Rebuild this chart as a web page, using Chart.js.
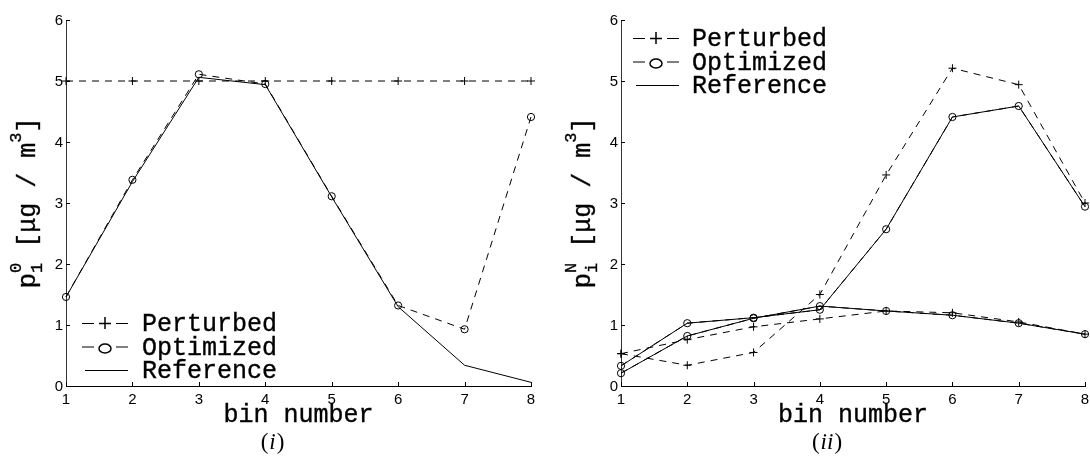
<!DOCTYPE html>
<html>
<head>
<meta charset="utf-8">
<script src="https://cdn.jsdelivr.net/npm/chart.js@4"></script>
<style>
body { margin: 0; background: #fff; }
.panel { position: absolute; top: 0; width: 545px; height: 456px; }
</style>
</head>
<body>
<div class="panel" style="left:0"><canvas id="chart1" width="545" height="456"></canvas></div>
<div class="panel" style="left:545px"><canvas id="chart2" width="545" height="456"></canvas></div>
<script>
const bins = ["1", "2", "3", "4", "5", "6", "7", "8"];

// panel (i)
const perturbed1 = [5, 5, 5, 5, 5, 5, 5, 5];
const optimized1 = [1.46, 3.38, 5.11, 4.95, 3.11, 1.32, 0.93, 4.41];
const reference1 = [1.46, 3.35, 5.06, 4.94, 3.1, 1.3, 0.34, 0.06];

// panel (ii)
const perturbedPeak = [0.53, 0.34, 0.55, 1.5, 3.46, 5.21, 4.94, 3.0];
const perturbedFlat = [0.53, 0.76, 0.97, 1.1, 1.23, 1.2, 1.05, 0.85];
const optimizedPeak = [0.33, 1.03, 1.12, 1.25, 2.57, 4.41, 4.59, 2.94];
const optimizedFlat = [0.21, 0.82, 1.11, 1.31, 1.23, 1.16, 1.03, 0.85];
const referencePeak = [0.33, 1.03, 1.12, 1.25, 2.57, 4.41, 4.59, 2.94];
const referenceFlat = [0.21, 0.82, 1.11, 1.31, 1.23, 1.16, 1.03, 0.85];

const MONO = "'Liberation Mono', 'DejaVu Sans Mono', monospace";
const SANS = "'Liberation Sans', Arial, sans-serif";
const SERIF = "'Liberation Serif', 'DejaVu Serif', serif";
const DASH = [7, 6];

function perturbedSet(data) {
    return {
        data: data,
        borderColor: "#000",
        borderWidth: 1,
        borderDash: DASH,
        pointStyle: "cross",
        pointRadius: 4,
        pointBorderWidth: 1,
        pointBorderColor: "#000",
        backgroundColor: "rgba(0,0,0,0)",
        tension: 0,
        clip: false,
    };
}

function optimizedSet(data) {
    return {
        data: data,
        borderColor: "#000",
        borderWidth: 1,
        borderDash: DASH,
        pointStyle: "circle",
        pointRadius: 3.6,
        pointBorderWidth: 1,
        pointBorderColor: "#000",
        pointBackgroundColor: "rgba(0,0,0,0)",
        backgroundColor: "rgba(0,0,0,0)",
        tension: 0,
        clip: false,
    };
}

function referenceSet(data) {
    return {
        data: data,
        borderColor: "#000",
        borderWidth: 1,
        pointRadius: 0,
        tension: 0,
        clip: false,
    };
}

// courier text, slightly thickened
function monoText(ctx, text, x, y, size) {
    ctx.font = size + "px " + MONO;
    ctx.fillText(text, x, y);
    ctx.lineWidth = 0.35;
    ctx.strokeText(text, x, y);
    ctx.lineWidth = 1;
}

// draws tick marks, tick labels, axis titles, legend and caption
function decorations(cfg) {
    return {
        id: "decorations",
        afterDraw(chart) {
            const ctx = chart.ctx;
            const xs = chart.scales.x;
            const ys = chart.scales.y;
            const area = chart.chartArea;
            ctx.save();
            ctx.strokeStyle = "#000";
            ctx.fillStyle = "#000";
            ctx.lineWidth = 1;
            ctx.setLineDash([]);

            // inward ticks and labels
            ctx.beginPath();
            xs.ticks.forEach(function (t, i) {
                const px = Math.round(xs.getPixelForTick(i)) + 0.5;
                ctx.moveTo(px, area.bottom);
                ctx.lineTo(px, area.bottom - 4);
            });
            ys.ticks.forEach(function (t, i) {
                const py = Math.round(ys.getPixelForTick(i)) + 0.5;
                ctx.moveTo(area.left, py);
                ctx.lineTo(area.left + 4, py);
            });
            ctx.stroke();

            ctx.font = "15px " + SANS;
            ctx.textAlign = "center";
            ctx.textBaseline = "top";
            xs.ticks.forEach(function (t, i) {
                ctx.fillText(xs.getLabelForValue(t.value), xs.getPixelForTick(i), area.bottom + 6);
            });
            ctx.textAlign = "right";
            ctx.textBaseline = "middle";
            ys.ticks.forEach(function (t, i) {
                ctx.fillText(String(t.value), area.left - 3, ys.getPixelForTick(i) + 1);
            });

            // x title
            ctx.textAlign = "center";
            ctx.textBaseline = "alphabetic";
            monoText(ctx, "bin number", (area.left + area.right) / 2, 422, 25);

            // y title with sub/superscripts
            const parts = cfg.yLabel;
            ctx.save();
            ctx.translate(area.left - 31, (area.top + area.bottom) / 2);
            ctx.rotate(-Math.PI / 2);
            ctx.textAlign = "left";
            let total = 0;
            parts.forEach(function (p) {
                ctx.font = p.size + "px " + MONO;
                p.w = ctx.measureText(p.text).width;
                if (!p.stack) total += p.w;
            });
            let cx = -total / 2;
            let lastX = cx;
            parts.forEach(function (p) {
                const startX = p.stack ? lastX : cx;
                monoText(ctx, p.text, startX, p.dy, p.size);
                if (!p.stack) {
                    lastX = cx;
                    cx += p.w;
                }
            });
            ctx.restore();

            // legend
            const lx = cfg.legendX;
            const tx = cfg.legendTextX;
            ctx.textAlign = "left";
            cfg.legend.forEach(function (item, i) {
                const base = cfg.legendY + i * 23.5;
                const my = base - 8;
                monoText(ctx, item.label, tx, base, 25);
                ctx.beginPath();
                if (item.marker) {
                    ctx.moveTo(lx, my + 0.5);
                    ctx.lineTo(lx + 12, my + 0.5);
                    ctx.moveTo(lx + 34, my + 0.5);
                    ctx.lineTo(lx + 46, my + 0.5);
                } else {
                    ctx.moveTo(lx + 3, my + 0.5);
                    ctx.lineTo(lx + 46, my + 0.5);
                }
                ctx.stroke();
                ctx.beginPath();
                if (item.marker === "plus") {
                    ctx.moveTo(lx + 17, my + 0.5);
                    ctx.lineTo(lx + 29, my + 0.5);
                    ctx.moveTo(lx + 23, my - 6);
                    ctx.lineTo(lx + 23, my + 6);
                    ctx.lineWidth = 1.5;
                    ctx.stroke();
                    ctx.lineWidth = 1;
                } else if (item.marker === "circle") {
                    ctx.ellipse(lx + 23, my + 2, 6, 4.5, 0, 0, Math.PI * 2);
                    ctx.lineWidth = 1.5;
                    ctx.stroke();
                    ctx.lineWidth = 1;
                }
            });

            // caption
            const capX = (area.left + area.right) / 2 - 26;
            ctx.font = "23px " + SERIF;
            const open = ctx.measureText("(").width;
            ctx.font = "italic 23px " + SERIF;
            const mid = ctx.measureText(cfg.caption).width;
            const w = open * 2 + mid + 2;
            const cpx = capX - w / 2;
            ctx.font = "23px " + SERIF;
            ctx.fillText("(", cpx, 449);
            ctx.font = "italic 23px " + SERIF;
            ctx.fillText(cfg.caption, cpx + open + 1, 449);
            ctx.font = "23px " + SERIF;
            ctx.fillText(")", cpx + open + mid + 2, 449);

            ctx.restore();
        },
    };
}

function makeOptions(yWidth, rightPad) {
    return {
        responsive: false,
        animation: false,
        layout: { padding: { top: 20, right: rightPad, left: 0, bottom: 0 } },
        plugins: { legend: { display: false }, tooltip: { enabled: false } },
        scales: {
            x: {
                offset: false,
                grid: { display: false },
                border: { display: true, color: "#000", width: 1 },
                ticks: { display: false },
                afterFit: function (s) { s.height = 70; },
            },
            y: {
                min: 0,
                max: 6,
                grid: { display: false },
                border: { display: true, color: "#333", width: 1 },
                ticks: { display: false, stepSize: 1 },
                afterFit: function (s) { s.width = yWidth; },
            },
        },
    };
}

const legendItems = [
    { label: "Perturbed", marker: "plus" },
    { label: "Optimized", marker: "circle" },
    { label: "Reference", marker: null },
];

new Chart(document.getElementById("chart1"), {
    type: "line",
    data: {
        labels: bins,
        datasets: [
            perturbedSet(perturbed1),
            optimizedSet(optimized1),
            referenceSet(reference1),
        ],
    },
    options: makeOptions(66, 14),
    plugins: [decorations({
        yLabel: [
            { text: "p", size: 26, dy: 0 },
            { text: "1", size: 17, dy: 7 },
            { text: "0", size: 17, dy: -14, stack: true },
            { text: " [\u03bcg / m", size: 25, dy: 0 },
            { text: "3", size: 17, dy: -14 },
            { text: "]", size: 25, dy: 0 },
        ],
        legend: legendItems,
        legendX: 82,
        legendTextX: 142,
        legendY: 331,
        caption: "i",
    })],
});

new Chart(document.getElementById("chart2"), {
    type: "line",
    data: {
        labels: bins,
        datasets: [
            perturbedSet(perturbedPeak),
            perturbedSet(perturbedFlat),
            optimizedSet(optimizedPeak),
            optimizedSet(optimizedFlat),
            referenceSet(referencePeak),
            referenceSet(referenceFlat),
        ],
    },
    options: makeOptions(76, 5),
    plugins: [decorations({
        yLabel: [
            { text: "p", size: 26, dy: 0 },
            { text: "i", size: 17, dy: 7 },
            { text: "N", size: 17, dy: -14, stack: true },
            { text: " [\u03bcg / m", size: 25, dy: 0 },
            { text: "3", size: 17, dy: -14 },
            { text: "]", size: 25, dy: 0 },
        ],
        legend: legendItems,
        legendX: 88,
        legendTextX: 147,
        legendY: 46,
        caption: "ii",
    })],
});
</script>
</body>
</html>
